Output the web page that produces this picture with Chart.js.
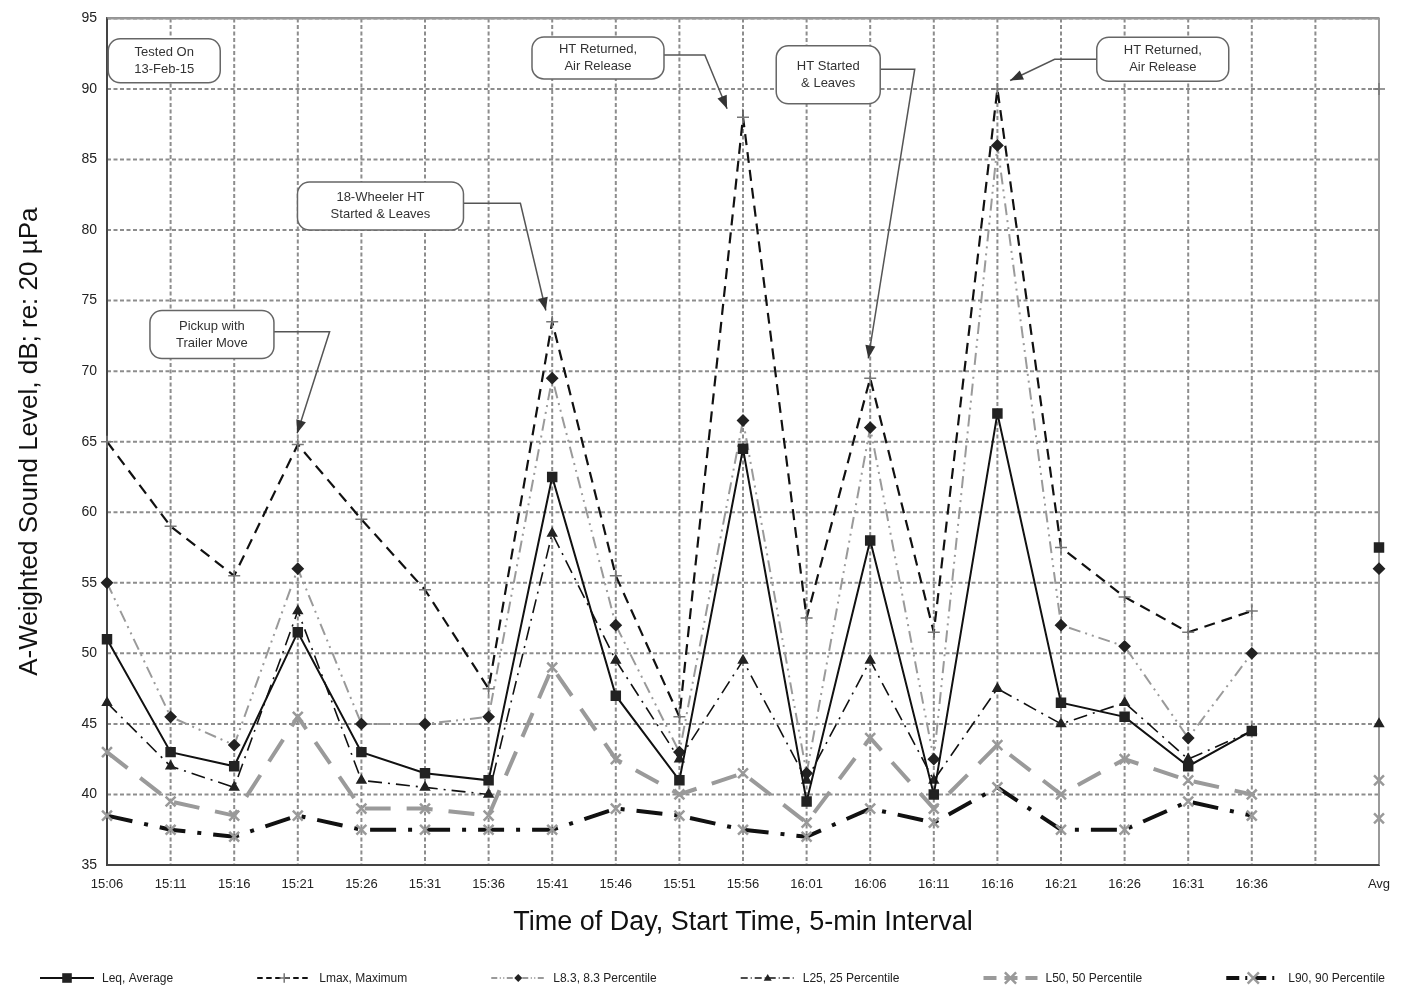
<!DOCTYPE html>
<html>
<head>
<meta charset="utf-8">
<script src="https://cdn.jsdelivr.net/npm/chart.js@4.4.1/dist/chart.umd.min.js"></script>
<style>
  html, body { margin: 0; padding: 0; background: #fff; }
  #wrap { width: 1403px; height: 997px; }
</style>
</head>
<body>
<div id="wrap"><canvas id="chart_1" width="1403" height="997"></canvas></div>
<script>
// 5-min start times, one empty slot, then the average column
const timeLabels = ["15:06", "15:11", "15:16", "15:21", "15:26", "15:31", "15:36", "15:41", "15:46", "15:51",
  "15:56", "16:01", "16:06", "16:11", "16:16", "16:21", "16:26", "16:31", "16:36", "", "Avg"];

const leq  = [51, 43, 42, 51.5, 43, 41.5, 41, 62.5, 47, 41, 64.5, 39.5, 58, 40, 67, 46.5, 45.5, 42, 44.5, null, 57.5];
const lmax = [65, 59, 55.5, 64.8, 59.5, 54.5, 47.5, 73.5, 55.5, 45.5, 88, 52.5, 69.5, 51.5, 90, 57.5, 54, 51.5, 53, null, 90];
const l8   = [55, 45.5, 43.5, 56, 45, 45, 45.5, 69.5, 52, 43, 66.5, 41.5, 66, 42.5, 86, 52, 50.5, 44, 50, null, 56];
const l25  = [46.5, 42, 40.5, 53, 41, 40.5, 40, 58.5, 49.5, 42.5, 49.5, 41, 49.5, 41, 47.5, 45, 46.5, 42.5, 44.5, null, 45];
const l50  = [43, 39.5, 38.5, 45.5, 39, 39, 38.5, 49, 42.5, 40, 41.5, 38, 44, 39, 43.5, 40, 42.5, 41, 40, null, 41];
const l90  = [38.5, 37.5, 37, 38.5, 37.5, 37.5, 37.5, 37.5, 39, 38.5, 37.5, 37, 39, 38, 40.5, 37.5, 37.5, 39.5, 38.5, null, 38.3];

const yTicks = [35, 40, 45, 50, 55, 60, 65, 70, 75, 80, 85, 90, 95];

// callouts: box centre and arrow path in data units (category index, dB)
const callouts = [
  { lines: ["Tested On", "13-Feb-15"], at: [0.9, 92.0], w: 112, h: 44 },
  { lines: ["Pickup with", "Trailer Move"], at: [1.65, 72.6], w: 124, h: 48, path: [[3.5, 72.8], [2.99, 65.6]] },
  { lines: ["18-Wheeler HT", "Started & Leaves"], at: [4.3, 81.7], w: 166, h: 48, path: [[6.5, 81.9], [6.9, 74.3]] },
  { lines: ["HT Returned,", "Air Release"], at: [7.72, 92.2], w: 132, h: 42, path: [[9.4, 92.4], [9.75, 88.6]] },
  { lines: ["HT Started", "& Leaves"], at: [11.34, 91.0], w: 104, h: 58, path: [[12.7, 91.4], [11.97, 70.9]] },
  { lines: ["HT Returned,", "Air Release"], at: [16.6, 92.1], w: 132, h: 44, path: [[14.9, 92.1], [14.2, 90.6]] },
];

const FONT = "'Liberation Sans', Arial, sans-serif";

const config_1 = {
  type: "line",
  data: {
    labels: timeLabels,
    datasets: [
      { label: "Leq, Average", data: leq, borderColor: "#111", backgroundColor: "#222", borderWidth: 2,
        pointStyle: "rect", pointRadius: 6, pointBorderColor: "#222", legendDash: [] },
      { label: "Lmax, Maximum", data: lmax, borderColor: "#111", backgroundColor: "#555", borderWidth: 2.2,
        borderDash: [11, 7], pointStyle: "cross", pointRadius: 6, pointBorderColor: "#777", pointBorderWidth: 1.5 },
      { label: "L8.3, 8.3 Percentile", data: l8, borderColor: "#9a9a9a", backgroundColor: "#222", borderWidth: 2,
        borderDash: [12, 5, 2, 5, 2, 5], pointStyle: "rectRot", pointRadius: 5, pointBorderColor: "#222" },
      { label: "L25, 25 Percentile", data: l25, borderColor: "#111", backgroundColor: "#222", borderWidth: 1.6,
        borderDash: [14, 6, 2, 6], pointStyle: "triangle", pointRadius: 5, pointBorderColor: "#222" },
      { label: "L50, 50 Percentile", data: l50, borderColor: "#9a9a9a", backgroundColor: "#999", borderWidth: 4,
        borderDash: [26, 16], pointStyle: "crossRot", pointRadius: 7, pointBorderColor: "#999", pointBorderWidth: 2.5 },
      { label: "L90, 90 Percentile", data: l90, borderColor: "#111", backgroundColor: "#999", borderWidth: 4,
        borderDash: [26, 12, 4, 12], pointStyle: "crossRot", pointRadius: 7, pointBorderColor: "#9a9a9a", pointBorderWidth: 2.5 },
    ],
  },
  options: {
    responsive: false,
    animation: false,
    spanGaps: false,
    layout: { padding: { left: 0, top: 16, right: 24, bottom: 52 } },
    elements: { line: { tension: 0 } },
    plugins: {
      legend: { display: false },
      tooltip: { enabled: false },
    },
    scales: {
      x: {
        grid: { color: "#8d8d8d", lineWidth: 2, drawTicks: false },
        border: { color: "#555", width: 2, dash: [] },
        ticks: { color: "#222", font: { family: FONT, size: 13 }, padding: 12, autoSkip: false, maxRotation: 0 },
        title: { display: true, text: "Time of Day, Start Time, 5-min Interval", color: "#111",
          font: { family: FONT, size: 27 }, padding: { top: 0, bottom: 6 } },
        afterFit: (s) => { s.height = 80; },
      },
      y: {
        min: 35, max: 95,
        afterBuildTicks: (s) => { s.ticks = yTicks.map((v) => ({ value: v })); },
        grid: { color: "#8d8d8d", lineWidth: 2, drawTicks: false },
        border: { color: "#555", width: 2 },
        ticks: { color: "#222", font: { family: FONT, size: 14 }, padding: 10 },
        title: { display: true, text: "A-Weighted Sound Level, dB; re: 20 µPa", color: "#111",
          font: { family: FONT, size: 26 }, padding: { top: 14, bottom: 0 } },
        afterFit: (s) => { s.width = 107; },
      },
    },
  },
  plugins: [{
    id: "dashedGrid",
    beforeDatasetsDraw(chart) {
      // grid in the picture is dashed; redraw it dashed over a white area
      const { ctx, chartArea: a, scales: { x, y } } = chart;
      ctx.save();
      ctx.fillStyle = "#fff";
      ctx.fillRect(a.left + 1, a.top, a.right - a.left - 1, a.bottom - a.top - 1);
      ctx.strokeStyle = "#8d8d8d";
      ctx.lineWidth = 2;
      ctx.setLineDash([4, 2.5]);
      timeLabels.forEach((_, i) => {
        const px = x.getPixelForValue(i);
        if (i === 0) return;
        ctx.beginPath(); ctx.moveTo(px, a.top); ctx.lineTo(px, a.bottom); ctx.stroke();
      });
      yTicks.forEach((v) => {
        if (v === 35) return;
        const py = y.getPixelForValue(v);
        ctx.beginPath(); ctx.moveTo(a.left, py); ctx.lineTo(a.right, py); ctx.stroke();
      });
      ctx.setLineDash([]);
      ctx.strokeStyle = "#9a9a9a";
      ctx.beginPath(); ctx.moveTo(a.left, a.top); ctx.lineTo(a.right, a.top); ctx.lineTo(a.right, a.bottom); ctx.stroke();
      ctx.strokeStyle = "#444";
      ctx.beginPath(); ctx.moveTo(a.left, a.top); ctx.lineTo(a.left, a.bottom); ctx.lineTo(a.right, a.bottom); ctx.stroke();
      ctx.restore();
    },
    afterDraw(chart) {
      const { ctx, scales: { x, y } } = chart;
      ctx.save();
      // callouts
      callouts.forEach((c) => {
        const cx = x.getPixelForValue(c.at[0]), cy = y.getPixelForValue(c.at[1]);
        const left = cx - c.w / 2, top = cy - c.h / 2;
        if (c.path) {
          const pts = [[cx + (c.path[0][0] > c.at[0] ? c.w / 2 : -c.w / 2), y.getPixelForValue(c.path[0][1])]]
            .concat(c.path.map((p) => [x.getPixelForValue(p[0]), y.getPixelForValue(p[1])]));
          ctx.strokeStyle = "#555";
          ctx.lineWidth = 1.5;
          ctx.beginPath();
          pts.forEach((p, k) => (k ? ctx.lineTo(p[0], p[1]) : ctx.moveTo(p[0], p[1])));
          ctx.stroke();
          const [p1, p2] = pts.slice(-2);
          const ang = Math.atan2(p2[1] - p1[1], p2[0] - p1[0]);
          ctx.fillStyle = "#333";
          ctx.beginPath();
          ctx.moveTo(p2[0], p2[1]);
          ctx.lineTo(p2[0] - 13 * Math.cos(ang) + 5 * Math.sin(ang), p2[1] - 13 * Math.sin(ang) - 5 * Math.cos(ang));
          ctx.lineTo(p2[0] - 13 * Math.cos(ang) - 5 * Math.sin(ang), p2[1] - 13 * Math.sin(ang) + 5 * Math.cos(ang));
          ctx.closePath();
          ctx.fill();
        }
        ctx.fillStyle = "#fff";
        ctx.strokeStyle = "#666";
        ctx.lineWidth = 1.5;
        ctx.beginPath();
        ctx.roundRect(left, top, c.w, c.h, 12);
        ctx.fill();
        ctx.stroke();
        ctx.fillStyle = "#333";
        ctx.font = "13px " + FONT;
        ctx.textAlign = "center";
        ctx.textBaseline = "middle";
        c.lines.forEach((t, k) => ctx.fillText(t, cx, cy + (k - (c.lines.length - 1) / 2) * 17));
      });
      // legend: line sample with marker, then text
      const ly = 978;
      ctx.font = "12px " + FONT;
      ctx.textAlign = "left";
      const items = chart.data.datasets.map((d) => ({ d, tw: ctx.measureText(d.label).width }));
      const sample = 54, gapT = 8;
      const total = items.reduce((s, it) => s + sample + gapT + it.tw, 0);
      const gap = (1403 - 40 - 18 - total) / (items.length - 1);
      let lx = 40;
      items.forEach(({ d, tw }) => {
        ctx.strokeStyle = d.borderColor;
        ctx.lineWidth = d.borderWidth;
        ctx.setLineDash(d.borderDash ? d.borderDash.map((v) => v * 0.5) : []);
        ctx.beginPath(); ctx.moveTo(lx, ly); ctx.lineTo(lx + sample, ly); ctx.stroke();
        ctx.setLineDash([]);
        const mx = lx + sample / 2, r = d.pointRadius * 0.8;
        ctx.fillStyle = d.backgroundColor;
        ctx.strokeStyle = d.pointBorderColor;
        ctx.lineWidth = d.pointBorderWidth || 1;
        ctx.beginPath();
        if (d.pointStyle === "rect") { ctx.rect(mx - r, ly - r, 2 * r, 2 * r); ctx.fill(); }
        else if (d.pointStyle === "rectRot") { ctx.moveTo(mx, ly - r); ctx.lineTo(mx + r, ly); ctx.lineTo(mx, ly + r); ctx.lineTo(mx - r, ly); ctx.closePath(); ctx.fill(); }
        else if (d.pointStyle === "triangle") { ctx.moveTo(mx, ly - r); ctx.lineTo(mx + r, ly + r * 0.7); ctx.lineTo(mx - r, ly + r * 0.7); ctx.closePath(); ctx.fill(); }
        else if (d.pointStyle === "cross") { ctx.moveTo(mx - r, ly); ctx.lineTo(mx + r, ly); ctx.moveTo(mx, ly - r); ctx.lineTo(mx, ly + r); ctx.stroke(); }
        else { ctx.moveTo(mx - r, ly - r); ctx.lineTo(mx + r, ly + r); ctx.moveTo(mx + r, ly - r); ctx.lineTo(mx - r, ly + r); ctx.stroke(); }
        ctx.fillStyle = "#222";
        ctx.textBaseline = "middle";
        ctx.fillText(d.label, lx + sample + gapT, ly + 1);
        lx += sample + gapT + tw + gap;
      });
      ctx.restore();
    },
  }],
};

const ct_1 = document.getElementById("chart_1");
new Chart(ct_1, config_1);
</script>
</body>
</html>
